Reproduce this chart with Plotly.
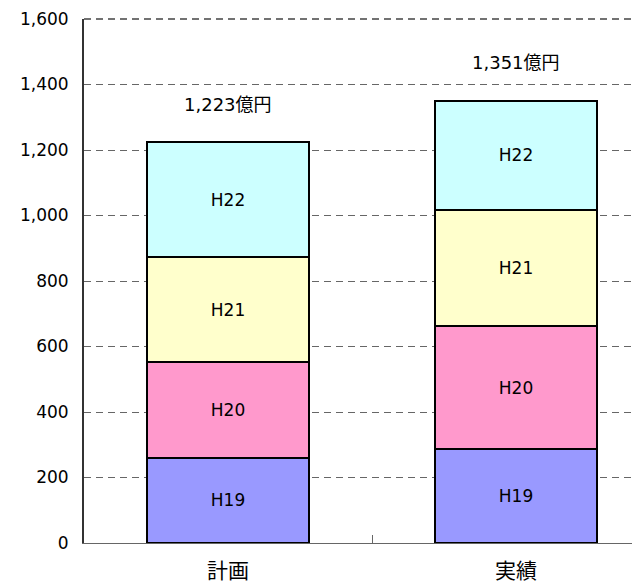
import plotly.graph_objects as go

categories = ["計画", "実績"]
series_names = ["H19", "H20", "H21", "H22"]
h19 = [260, 286]
h20 = [292, 376]
h21 = [321, 355]
h22 = [350, 334]
totals = [1223, 1351]
total_labels = ["1,223億円", "1,351億円"]
colors = ["#9999FF", "#FF99CC", "#FFFFCC", "#CCFFFF"]

FONT = "DejaVu Sans, Noto Sans CJK JP, sans-serif"
CJK = "Noto Sans CJK JP, sans-serif"

fig = go.Figure()
for name, vals, col in zip(series_names, [h19, h20, h21, h22], colors):
    fig.add_trace(go.Bar(
        x=categories, y=vals, name=name,
        marker=dict(color=col, line=dict(color="#000000", width=2)),
        text=[name] * len(vals), textposition="inside",
        insidetextanchor="middle", constraintext="none",
        textfont=dict(size=17, color="#000000", family=FONT),
        width=0.56,
    ))

for c, t, lbl in zip(categories, totals, total_labels):
    fig.add_annotation(x=c, y=t, text=lbl, showarrow=False, yshift=38,
                       font=dict(size=18, color="#000000", family=FONT))

# dashed line along the top of the plot area
fig.add_shape(type="line", xref="paper", yref="paper", x0=0, x1=1, y0=1, y1=1,
              line=dict(color="#444444", width=1.5, dash="7px,5px"))

# the page body has an 8px margin; margins below compensate for it
fig.update_layout(
    barmode="stack",
    width=640, height=585,
    margin=dict(l=76, r=8, t=11, b=50),
    paper_bgcolor="white", plot_bgcolor="white",
    showlegend=False,
    font=dict(family=FONT, color="#000000"),
)
fig.update_xaxes(
    range=[-0.5, -0.5 + 556 / 288], automargin=False,
    showline=True, linecolor="#666666", linewidth=1,
    ticks="inside", tickson="boundaries", ticklen=8, tickcolor="#666666",
    tickfont=dict(size=21, family=CJK), ticklabelstandoff=9,
    showgrid=False,
)
fig.update_yaxes(
    range=[0, 1600], dtick=200, tickformat=",d", automargin=False,
    showline=True, linecolor="#333333", linewidth=2,
    showgrid=True, gridcolor="#666666", griddash="7px,5px", gridwidth=1,
    tickfont=dict(size=17, family=FONT),
    ticks="", ticklabelstandoff=10,
    zeroline=False,
)

fig.write_html("out.html")
